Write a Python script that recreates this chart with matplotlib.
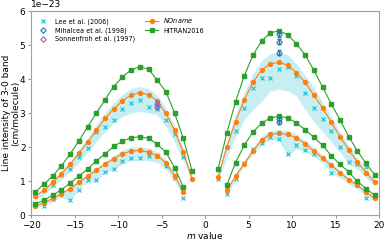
import numpy as np
import matplotlib
matplotlib.use("Agg")
import matplotlib.pyplot as plt

# m values
m_p = np.array([-19.5, -18.5, -17.5, -16.5, -15.5, -14.5, -13.5, -12.5, -11.5, -10.5,
                -9.5, -8.5, -7.5, -6.5, -5.5, -4.5, -3.5, -2.5, -1.5])
m_r = np.array([1.5, 2.5, 3.5, 4.5, 5.5, 6.5, 7.5, 8.5, 9.5, 10.5,
                11.5, 12.5, 13.5, 14.5, 15.5, 16.5, 17.5, 18.5, 19.5])
nan = np.nan

# values in units of 1e-23 cm/molecule
# upper sub-band, P side (m=-19.5..-1.5)
hit_up_p = [0.68, 0.91, 1.15, 1.45, 1.80, 2.18, 2.59, 3.00, 3.39, 3.78, 4.06, 4.27, 4.36, 4.29, 3.97, 3.63, 3.00, 2.26, 1.30]
non_up_p = [0.56, 0.73, 0.96, 1.22, 1.49, 1.82, 2.14, 2.49, 2.84, 3.12, 3.36, 3.53, 3.60, 3.54, 3.36, 2.99, 2.49, 1.85, 1.07]
lee_up_p = [nan, nan, 0.88, 1.19, 1.35, 1.71, 1.98, 2.44, 2.58, 2.80, 3.12, 3.31, 3.38, 3.19, 3.12, 2.80, 2.37, 1.71, nan]
band_lo_up_p = [0.45, 0.60, 0.82, 1.05, 1.28, 1.55, 1.85, 2.15, 2.45, 2.70, 2.90, 3.00, 3.05, 3.00, 2.95, 2.60, 2.15, 1.60, 1.00]
band_hi_up_p = [0.60, 0.78, 1.02, 1.30, 1.58, 1.93, 2.28, 2.66, 3.02, 3.30, 3.55, 3.72, 3.78, 3.72, 3.52, 3.15, 2.62, 1.95, 1.12]

# lower sub-band, P side (m=-19.5..-2.5; nan at -1.5)
hit_lo_p = [0.32, 0.44, 0.58, 0.75, 0.94, 1.14, 1.36, 1.59, 1.80, 2.02, 2.17, 2.28, 2.30, 2.26, 2.08, 1.85, 1.39, 0.83, nan]
non_lo_p = [0.27, 0.36, 0.49, 0.63, 0.78, 0.96, 1.14, 1.32, 1.49, 1.66, 1.80, 1.88, 1.90, 1.85, 1.75, 1.53, 1.16, 0.68, nan]
lee_lo_p = [nan, 0.26, 0.46, nan, 0.43, 0.75, 1.04, 1.02, 1.27, 1.35, 1.58, 1.68, 1.68, 1.75, 1.75, 1.45, 1.09, 0.49, nan]
band_lo_lo_p = [0.22, 0.28, 0.40, 0.52, 0.42, 0.78, 0.98, 1.00, 1.25, 1.33, 1.50, 1.60, 1.62, 1.60, 1.55, 1.35, 1.00, 0.55, nan]
band_hi_lo_p = [0.30, 0.40, 0.53, 0.68, 0.84, 1.02, 1.22, 1.40, 1.58, 1.76, 1.91, 2.00, 2.02, 1.97, 1.86, 1.63, 1.24, 0.73, nan]

# upper sub-band, R side (m=1.5..19.5)
hit_up_r = [1.36, 2.41, 3.33, 4.09, 4.70, 5.12, 5.36, 5.42, 5.30, 5.04, 4.71, 4.26, 3.77, 3.27, 2.81, 2.31, 1.89, 1.52, 1.18]
non_up_r = [1.12, 2.00, 2.75, 3.38, 3.90, 4.26, 4.45, 4.49, 4.41, 4.19, 3.90, 3.53, 3.15, 2.73, 2.31, 1.92, 1.56, 1.25, 0.96]
lee_up_r = [1.07, nan, 2.46, 3.15, 3.73, 4.03, 4.02, 4.31, 4.34, 4.10, 3.58, 3.14, 2.83, 2.46, 2.00, 1.56, 1.50, 1.40, nan]
band_lo_up_r = [1.00, 1.70, 2.30, 2.80, 3.10, 3.35, 3.65, 3.70, 3.65, 3.50, 3.10, 2.75, 2.45, 2.15, 1.85, 1.50, 1.35, 1.10, 0.85]
band_hi_up_r = [1.20, 2.15, 2.95, 3.60, 4.15, 4.55, 4.75, 4.78, 4.72, 4.45, 4.10, 3.75, 3.33, 2.90, 2.45, 2.05, 1.68, 1.35, 1.05]

# lower sub-band, R side (nan at 1.5; m=2.5..19.5)
hit_lo_r = [nan, 0.88, 1.54, 2.05, 2.44, 2.70, 2.86, 2.90, 2.86, 2.71, 2.51, 2.29, 2.05, 1.75, 1.49, 1.27, 0.99, 0.78, 0.58]
non_lo_r = [nan, 0.73, 1.14, 1.51, 1.88, 2.21, 2.37, 2.41, 2.37, 2.27, 2.10, 1.88, 1.68, 1.46, 1.25, 1.04, 0.88, 0.68, 0.49]
lee_lo_r = [nan, 0.61, 1.07, 1.53, 1.95, 2.12, 2.29, 2.24, 1.80, 2.05, 1.90, 1.80, nan, 1.25, nan, nan, nan, 0.49, nan]
band_lo_lo_r = [nan, 0.58, 1.02, 1.45, 1.80, 2.05, 2.22, 2.18, 1.75, 1.95, 1.85, 1.72, 1.55, 1.22, 1.10, 0.92, 0.78, 0.55, 0.42]
band_hi_lo_r = [nan, 0.78, 1.22, 1.60, 1.98, 2.32, 2.48, 2.52, 2.48, 2.38, 2.20, 1.98, 1.77, 1.54, 1.32, 1.10, 0.93, 0.72, 0.53]

# Mihalcea et al. (1998) at m = 8.5
mih_m = [8.5, 8.5, 8.5, 8.5, 8.5]
mih_v = [5.33, 5.10, 4.78, 2.83, 2.75]
mih_err = [0.08, 0.08, 0.08, 0.06, 0.06]
# Sonnenfroh et al. (1997) at m = -5.5
son_m = [-5.5, -5.5]
son_v = [3.28, 3.19]
son_err = [0.08, 0.08]

scale = 1e-23
C_LEE = '#17becf'
C_NON = '#ff7f0e'
C_HIT = '#2ca02c'
C_MIH = '#1f77b4'
C_SON = '#9467bd'
FS = 6.5

fig = plt.figure(figsize=(3.88, 2.40), dpi=100)
ax = fig.add_axes([0.08, 0.104, 0.897, 0.85])

def arr(v):
    return np.array(v, dtype=float) * scale

for m, lo, hi in [(m_p, band_lo_up_p, band_hi_up_p), (m_p, band_lo_lo_p, band_hi_lo_p),
                  (m_r, band_lo_up_r, band_hi_up_r), (m_r, band_lo_lo_r, band_hi_lo_r)]:
    ax.fill_between(m, arr(lo), arr(hi), color=C_LEE, alpha=0.24, lw=0)

first = True
for m, lee, non, hit in [(m_p, lee_up_p, non_up_p, hit_up_p), (m_p, lee_lo_p, non_lo_p, hit_lo_p),
                         (m_r, lee_up_r, non_up_r, hit_up_r), (m_r, lee_lo_r, non_lo_r, hit_lo_r)]:
    ax.plot(m, arr(lee), 'x', color=C_LEE, ms=2.8, mew=0.8, ls='none',
            label='Lee et al. (2006)' if first else None, zorder=3)
    ax.plot(m, arr(non), '-o', color=C_NON, ms=2.8, lw=0.8,
            label='$\\it{NOname}$' if first else None, zorder=4)
    ax.plot(m, arr(hit), '-s', color=C_HIT, ms=3.0, lw=0.8,
            label='HITRAN2016' if first else None, zorder=4)
    first = False

ax.errorbar(mih_m, arr(mih_v), yerr=arr(mih_err), fmt='none', ecolor=C_MIH,
            elinewidth=0.8, capsize=1.5, zorder=5)
ax.plot(mih_m, arr(mih_v), 'D', mfc='none', mec=C_MIH, ms=2.8, mew=0.8, ls='none',
        label='Mihalcea et al. (1998)', zorder=5)
ax.errorbar(son_m, arr(son_v), yerr=arr(son_err), fmt='none', ecolor=C_SON,
            elinewidth=0.8, capsize=1.5, zorder=5)
ax.plot(son_m, arr(son_v), 'D', mfc='none', mec=C_SON, ms=2.8, mew=0.8, ls='none',
        label='Sonnenfroh et al. (1997)', zorder=5)

ax.set_xlim(-20, 20)
ax.set_ylim(0, 6e-23)
ax.set_xticks([-20, -15, -10, -5, 0, 5, 10, 15, 20])
ax.tick_params(labelsize=FS, length=2.5, width=0.6, color='#808080', pad=1.5)
ax.yaxis.get_offset_text().set_fontsize(FS)
for s in ax.spines.values():
    s.set_color('#a0a0a0')
    s.set_linewidth(0.8)
ax.set_xlabel('$m$ value', fontsize=FS, labelpad=0)
ax.set_ylabel('Line intensity of 3-0 band\n(cm/molecule)', fontsize=FS, linespacing=1.1)
ax.yaxis.set_label_coords(-0.03, 0.5)

h, l = ax.get_legend_handles_labels()
order = [l.index('Lee et al. (2006)'), l.index('Mihalcea et al. (1998)'),
         l.index('Sonnenfroh et al. (1997)'), l.index('$\\it{NOname}$'), l.index('HITRAN2016')]
ax.legend([h[i] for i in order], [l[i] for i in order], ncol=2, loc='upper left',
          fontsize=4.7, frameon=False, handlelength=2, columnspacing=1.6,
          borderaxespad=0.4, labelspacing=0.35)

fig.savefig('out.png', dpi=100)
